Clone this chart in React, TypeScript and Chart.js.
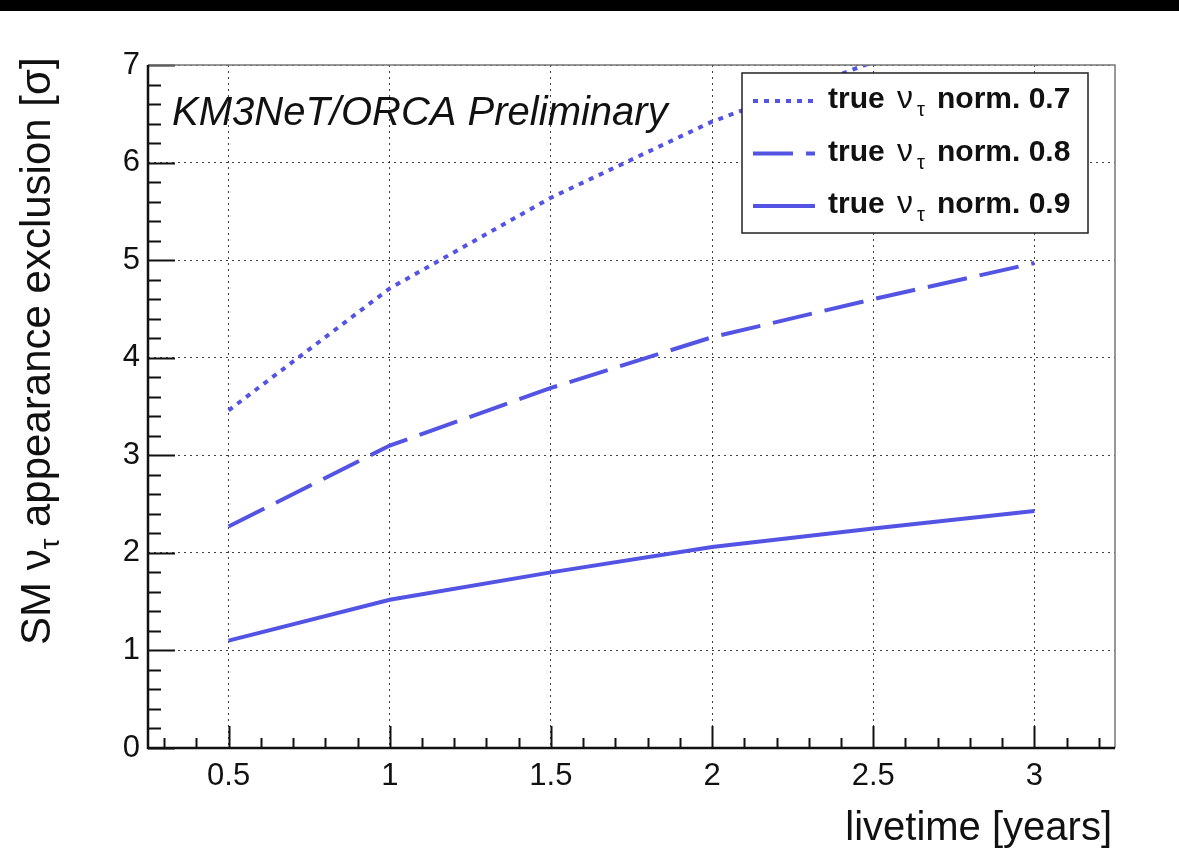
import React, { useEffect, useRef } from "react";
import { Chart, registerables } from "chart.js";

Chart.register(...registerables);

// ---- data ----
const livetimeYears = [0.5, 1, 1.5, 2, 2.5, 3];
const norm07 = [3.46, 4.71, 5.64, 6.42, 7.03, 7.6];
const norm08 = [2.27, 3.1, 3.69, 4.21, 4.6, 4.97];
const norm09 = [1.1, 1.52, 1.8, 2.06, 2.25, 2.43];
const seriesLabels = ["0.7", "0.8", "0.9"];
const xTickValues = [0.5, 1, 1.5, 2, 2.5, 3];
const yTickValues = [0, 1, 2, 3, 4, 5, 6, 7];

const FONT = "'Liberation Sans', Arial, Helvetica, sans-serif";
const BLUE = "rgb(84, 84, 228)";
const dashes = [[5, 6], [40, 13], []];

const decorPlugin = {
  id: "rootDecor",
  afterDraw(chart: any) {
    const ctx = chart.ctx;
    const { left, right, top, bottom } = chart.chartArea;
    const xs = chart.scales.x;
    const ys = chart.scales.y;
    ctx.save();

    // inner ticks - y
    ctx.strokeStyle = "#111";
    ctx.lineWidth = 2;
    for (let i = 0; i <= 35; i++) {
      const v = i * 0.2;
      const py = Math.round(ys.getPixelForValue(v)) + 0.5;
      const major = i % 5 === 0;
      ctx.beginPath();
      ctx.moveTo(left, py);
      ctx.lineTo(left + (major ? 27 : 13), py);
      ctx.stroke();
    }
    // inner ticks - x
    for (let i = 3; i <= 32; i++) {
      const v = i * 0.1;
      const px = Math.round(xs.getPixelForValue(v)) + 0.5;
      const major = i % 5 === 0;
      ctx.beginPath();
      ctx.moveTo(px, bottom);
      ctx.lineTo(px, bottom - (major ? 22 : 10));
      ctx.stroke();
    }

    // frame
    ctx.strokeStyle = "#777";
    ctx.lineWidth = 1.5;
    ctx.beginPath();
    ctx.moveTo(left, top);
    ctx.lineTo(right, top);
    ctx.lineTo(right, bottom);
    ctx.stroke();
    ctx.strokeStyle = "#111";
    ctx.lineWidth = 2.5;
    ctx.beginPath();
    ctx.moveTo(left, top);
    ctx.lineTo(left, bottom);
    ctx.lineTo(right, bottom);
    ctx.stroke();

    // y title
    ctx.save();
    ctx.translate(50, 645);
    ctx.rotate(-Math.PI / 2);
    ctx.fillStyle = "#111";
    ctx.textBaseline = "alphabetic";
    ctx.textAlign = "left";
    let cx = 0;
    ctx.font = `42px ${FONT}`;
    ctx.fillText("SM ", cx, 0);
    cx += ctx.measureText("SM ").width;
    ctx.fillText("ν", cx, 0);
    cx += ctx.measureText("ν").width;
    ctx.font = `27px ${FONT}`;
    ctx.fillText("τ", cx, 9);
    cx += ctx.measureText("τ").width;
    ctx.font = `42px ${FONT}`;
    ctx.fillText(" appearance exclusion [σ]", cx, 0);
    ctx.restore();

    // x title
    ctx.fillStyle = "#111";
    ctx.font = `40px ${FONT}`;
    ctx.textAlign = "right";
    ctx.textBaseline = "alphabetic";
    ctx.fillText("livetime [years]", 1112, 840);

    // experiment label
    ctx.textAlign = "left";
    ctx.font = `italic 40px ${FONT}`;
    ctx.fillText("KM3NeT/ORCA Preliminary", 172, 125);

    // legend
    const lx = 742, ly = 73, lw = 346, lh = 160;
    ctx.fillStyle = "#fff";
    ctx.fillRect(lx, ly, lw, lh);
    ctx.strokeStyle = "#222";
    ctx.lineWidth = 1.5;
    ctx.strokeRect(lx, ly, lw, lh);
    chart.data.datasets.forEach((ds: any, i: number) => {
      const cy = 101 + i * 52.5;
      ctx.strokeStyle = ds.borderColor;
      ctx.lineWidth = ds.borderWidth;
      ctx.setLineDash(ds.borderDash || []);
      ctx.beginPath();
      ctx.moveTo(753, cy);
      ctx.lineTo(815, cy);
      ctx.stroke();
      ctx.setLineDash([]);
      const by = cy + 7;
      ctx.fillStyle = "#111";
      ctx.font = `bold 30px ${FONT}`;
      ctx.fillText("true", 828, by);
      ctx.font = `32px ${FONT}`;
      ctx.fillText("ν", 897, by);
      ctx.font = `20px ${FONT}`;
      ctx.fillText("τ", 917, by + 8);
      ctx.font = `bold 30px ${FONT}`;
      ctx.fillText("norm. " + seriesLabels[i], 937, by);
    });
    ctx.restore();
  },
};

export default function App() {
  const ref = useRef<HTMLCanvasElement>(null);
  useEffect(() => {
    if (!ref.current) return;
    const mk = (data: number[], i: number) => ({
      label: "true ντ norm. " + seriesLabels[i],
      data: livetimeYears.map((x, k) => ({ x, y: data[k] })),
      borderColor: BLUE,
      backgroundColor: BLUE,
      borderWidth: 4,
      borderDash: dashes[i],
      pointRadius: 0,
      fill: false,
      tension: 0,
    });
    const chart = new Chart(ref.current, {
      type: "line",
      data: { datasets: [mk(norm07, 0), mk(norm08, 1), mk(norm09, 2)] },
      options: {
        animation: false,
        responsive: false,
        devicePixelRatio: 1,
        layout: { padding: { top: 65, right: 64, left: 0, bottom: 0 } },
        plugins: { legend: { display: false }, tooltip: { enabled: false } },
        scales: {
          x: {
            type: "linear",
            min: 0.25,
            max: 3.25,
            afterFit: (s: any) => { s.height = 101; },
            afterBuildTicks: (s: any) => { s.ticks = xTickValues.map((value) => ({ value })); },
            grid: { color: "rgba(0,0,0,0.75)", lineWidth: 1, drawTicks: false },
            border: { display: false, dash: [2, 4] },
            ticks: {
              font: { family: FONT, size: 31 },
              color: "#111",
              padding: 10,
              maxRotation: 0,
              autoSkip: false,
              callback: (v: any) => String(v),
            },
          },
          y: {
            type: "linear",
            min: 0,
            max: 7,
            afterFit: (s: any) => { s.width = 148; },
            afterBuildTicks: (s: any) => { s.ticks = yTickValues.map((value) => ({ value })); },
            grid: { color: "rgba(0,0,0,0.75)", lineWidth: 1, drawTicks: false },
            border: { display: false, dash: [2, 4] },
            ticks: {
              font: { family: FONT, size: 31 },
              color: "#111",
              padding: 8,
              callback: (v: any) => String(v),
            },
          },
        },
      },
      plugins: [decorPlugin],
    } as any);
    return () => chart.destroy();
  }, []);
  return (
    <div style={{ position: "absolute", left: 0, top: 0, width: 1179, height: 849, background: "#fff" }}>
      <canvas ref={ref} width={1179} height={849} style={{ display: "block" }} />
      <div style={{ position: "absolute", left: 0, top: 0, width: 1179, height: 11, background: "#000" }} />
    </div>
  );
}
